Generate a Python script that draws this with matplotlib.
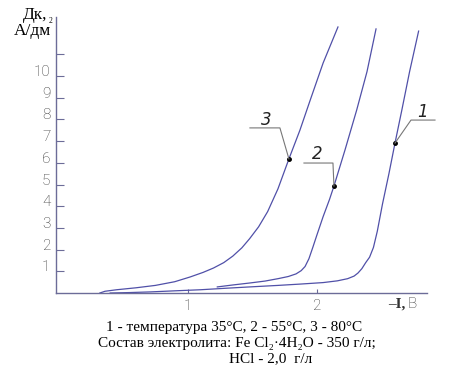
import matplotlib
matplotlib.use("Agg")
import matplotlib.pyplot as plt
from matplotlib.transforms import offset_copy

# кривые: потенциал (-I, В) и плотность тока (Дк, А/дм2)
v1 = [0.40, 0.55, 0.71, 0.90, 1.10, 1.30, 1.48, 1.70, 1.87, 2.05, 2.16, 2.24, 2.29,
      2.32, 2.35, 2.38, 2.41, 2.44, 2.47, 2.51, 2.56, 2.607, 2.66, 2.72, 2.79]
j1 = [0.00, 0.02, 0.05, 0.10, 0.15, 0.22, 0.28, 0.35, 0.41, 0.48, 0.56, 0.66, 0.78,
      0.92, 1.12, 1.40, 1.65, 2.10, 2.85, 4.10, 5.50, 6.91, 8.43, 10.2, 12.07]

v2 = [1.23, 1.35, 1.48, 1.60, 1.70, 1.78, 1.84, 1.88, 1.91, 1.94, 1.97, 2.00, 2.05,
      2.10, 2.134, 2.22, 2.31, 2.39, 2.46]
j2 = [0.28, 0.37, 0.46, 0.55, 0.66, 0.76, 0.88, 1.03, 1.22, 1.58, 2.10, 2.64, 3.52,
      4.32, 4.93, 6.60, 8.43, 10.2, 12.17]

v3 = [0.32, 0.36, 0.45, 0.60, 0.75, 0.90, 1.02, 1.12, 1.20, 1.28, 1.35, 1.42, 1.48,
      1.55, 1.62, 1.70, 1.785, 1.87, 1.95, 2.05, 2.165]
j3 = [0.00, 0.08, 0.15, 0.24, 0.35, 0.52, 0.74, 0.95, 1.15, 1.40, 1.70, 2.08, 2.50,
      3.05, 3.75, 4.80, 6.18, 7.50, 8.89, 10.6, 12.26]

# точки с номерами кривых
lab_names = ["1", "2", "3"]
lab_v = [2.607, 2.134, 1.785]
lab_j = [6.91, 4.93, 6.18]

ytick_vals = [1, 2, 3, 4, 5, 6, 7, 8, 9, 10, 11]
ytick_text = ["1", "2", "3", "4", "5", "6", "7", "8", "9", "10", ""]
xtick_vals = [1, 2]
xtick_text = ["1", "2"]

axis_col = "#6c6c98"
line_col = "#5050a8"

fig = plt.figure(figsize=(4.55, 3.77), dpi=100)
ax = fig.add_axes([56 / 455, 84 / 377, 371 / 455, 276 / 377])
ax.set_xlim(-0.02, 2.855)
ax.set_ylim(0, 12.72)

for v, j in [(v1, j1), (v2, j2), (v3, j3)]:
    ax.plot(v, j, color=line_col, lw=0.9)

ax.plot(lab_v, lab_j, "o", color="black", ms=2.5)

for s in ["top", "right"]:
    ax.spines[s].set_visible(False)
for s in ["left", "bottom"]:
    ax.spines[s].set_color(axis_col)
    ax.spines[s].set_linewidth(1.0)

ax.set_yticks(ytick_vals)
ax.set_yticklabels(ytick_text)
ax.set_xticks(xtick_vals)
ax.set_xticklabels(xtick_text)
ax.tick_params(axis="y", direction="in", length=6, color=axis_col, pad=4,
               labelsize=11, labelcolor="#333333")
ax.tick_params(axis="x", direction="in", length=3, color=axis_col, pad=4,
               labelsize=11, labelcolor="#333333")
for t in ax.get_yticklabels():
    t.set_fontfamily("Roboto")
    t.set_fontweight("light")
    t.set_verticalalignment("center")
    t.set_transform(offset_copy(t.get_transform(), fig=fig, x=0, y=4, units="dots"))
for t in ax.get_xticklabels():
    t.set_fontfamily("Roboto")
    t.set_fontweight("light")

fig.canvas.draw()

# выноски: точка -> излом -> горизонтальная полка (смещения в пикселях)
leaders = {
    "1": [(16, -23), (40, -23), (28, -31)],
    "2": [(-1, -23), (-30, -23), (-17, -32)],
    "3": [(-9, -31), (-39, -31), (-23, -39)],
}
H = 377
for name, v, j in zip(lab_names, lab_v, lab_j):
    px, py = ax.transData.transform((v, j))
    (ex, ey), (hx, hy), (tx, ty) = leaders[name]
    xs = [px, px + ex, px + hx]
    ys = [py, py - ey, py - hy]
    fig.add_artist(plt.Line2D(xs, ys, transform=None, color="#777777", lw=0.8))
    fig.text((px + tx) / 455, (py - ty) / H, name, ha="center", va="center",
             fontsize=12, style="italic", family="DejaVu Sans", color="#222222")

# подписи осей
serif = ["Liberation Serif", "DejaVu Serif"]
fig.text(35 / 455, 1 - 15 / H, "Дк,", ha="center", va="center", fontsize=12.5,
         family=serif)
fig.text(51 / 455, 1 - 21 / H, "2", ha="center", va="center", fontsize=5.5,
         family=serif)
fig.text(32 / 455, 1 - 31 / H, "А/дм", ha="center", va="center", fontsize=12.5,
         family=serif)
fig.text(397 / 455, 1 - 304 / H, "–I,", ha="center", va="center", fontsize=11,
         family=serif, fontweight="bold", color="#333333")
fig.text(412 / 455, 1 - 304 / H, "В", ha="center", va="center", fontsize=11,
         family="Roboto", fontweight="light", color="#333333")

# подпись под рисунком
fig.text(234 / 455, 1 - 327 / H, "1 - температура 35°С, 2 - 55°С, 3 - 80°С",
         ha="center", va="center", fontsize=11, family=serif)
fig.text(237 / 455, 1 - 343 / H, "Состав электролита: Fe Cl₂·4H₂O - 350 г/л;",
         ha="center", va="center", fontsize=11, family=serif)
fig.text(271 / 455, 1 - 359 / H, "HCl - 2,0  г/л",
         ha="center", va="center", fontsize=11, family=serif)

fig.savefig("out.png", dpi=100)
